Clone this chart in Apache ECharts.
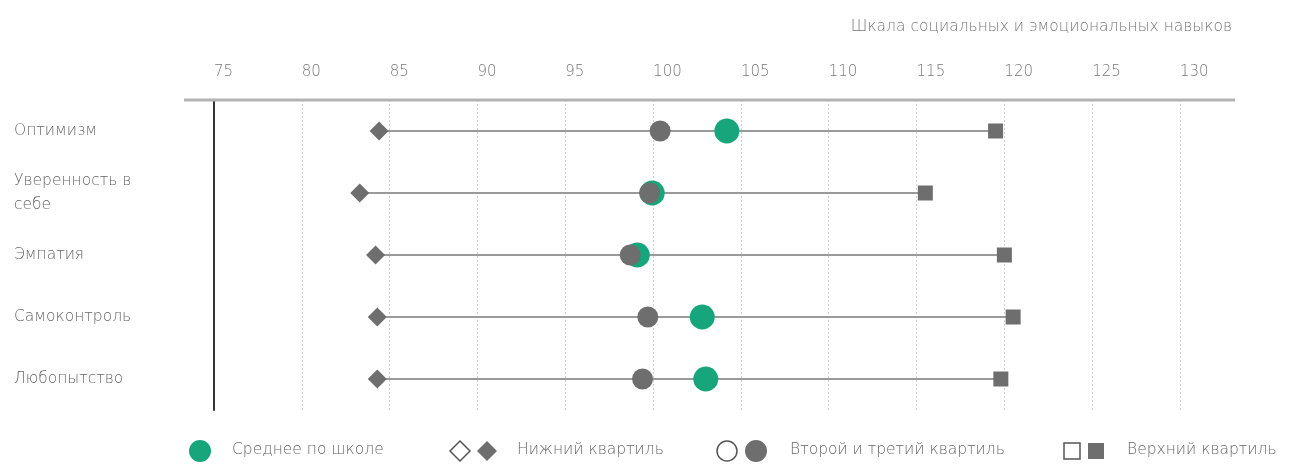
<!DOCTYPE html>
<html><head><meta charset="utf-8">
<script src="https://cdn.jsdelivr.net/npm/echarts@6/dist/echarts.min.js"></script>
<style>html,body{margin:0;padding:0;background:#fff}#c{width:1290px;height:464px}</style>
</head><body><div id="c"></div>
<script>
const categories = ['Оптимизм', 'Уверенность в\nсебе', 'Эмпатия', 'Самоконтроль', 'Любопытство'];
const lowerQuartile = [84.4, 83.3, 84.2, 84.3, 84.3];
const middleQuartiles = [100.4, 99.8, 98.7, 99.7, 99.4];
const schoolMean = [104.2, 99.95, 99.1, 102.8, 103.0];
const upperQuartile = [119.5, 115.5, 120.0, 120.5, 119.8];
const axisMin = 75, axisMax = 130, axisStep = 5;
const axisTitle = 'Шкала социальных и эмоциональных навыков';
const legendLabels = ['Среднее по школе', 'Нижний квартиль', 'Второй и третий квартиль', 'Верхний квартиль'];

const FONT = 'DejaVu Sans';
const GREEN = '#17a57b', GRAY = '#6e6e6e', TXT = '#666';
const LFONT = '200 15.5px "DejaVu Sans"';

const chart = echarts.init(document.getElementById('c'));
const pts = arr => arr.map((v, i) => [v, i]);
const lgY = 451;
chart.setOption({
  animation: false,
  grid: { left: 214, right: 110, top: 100, bottom: 54 },
  xAxis: {
    type: 'value', position: 'top', min: axisMin, max: axisMax, interval: axisStep,
    axisLine: { show: false }, axisTick: { show: false },
    axisLabel: { margin: 20, align: 'left', color: '#777', fontFamily: FONT, fontSize: 15, fontWeight: 200 },
    splitLine: { show: true, lineStyle: { color: '#cfcfcf', type: [2, 2], width: 1 } }
  },
  yAxis: {
    type: 'category', data: categories, inverse: true,
    axisLine: { show: true, lineStyle: { color: '#333', width: 2 } }, axisTick: { show: false },
    axisLabel: { align: 'left', margin: 200, color: TXT, fontFamily: FONT, fontSize: 15.5, fontWeight: 200, lineHeight: 24 },
    splitLine: { show: false }
  },
  graphic: [
    { type: 'line', shape: { x1: 184, y1: 100, x2: 1235, y2: 100 }, style: { stroke: '#b3b3b3', lineWidth: 3 }, z: 5 },
    { type: 'text', right: 58, top: 19, style: { text: axisTitle, fill: '#777', font: '200 15.5px "DejaVu Sans"' } },
    { type: 'circle', shape: { cx: 200, cy: lgY, r: 11 }, style: { fill: GREEN } },
    { type: 'text', left: 232, top: lgY - 9, style: { text: legendLabels[0], fill: TXT, font: LFONT } },
    { type: 'polygon', shape: { points: [[460, lgY - 10], [470, lgY], [460, lgY + 10], [450, lgY]] }, style: { fill: '#fff', stroke: '#555', lineWidth: 1.5 } },
    { type: 'polygon', shape: { points: [[487, lgY - 10], [497, lgY], [487, lgY + 10], [477, lgY]] }, style: { fill: GRAY } },
    { type: 'text', left: 517, top: lgY - 9, style: { text: legendLabels[1], fill: TXT, font: LFONT } },
    { type: 'circle', shape: { cx: 727, cy: lgY, r: 10 }, style: { fill: '#fff', stroke: '#555', lineWidth: 1.5 } },
    { type: 'circle', shape: { cx: 756, cy: lgY, r: 11 }, style: { fill: GRAY } },
    { type: 'text', left: 790, top: lgY - 9, style: { text: legendLabels[2], fill: TXT, font: LFONT } },
    { type: 'rect', shape: { x: 1064, y: lgY - 8, width: 16, height: 16 }, style: { fill: '#fff', stroke: '#555', lineWidth: 1.5 } },
    { type: 'rect', shape: { x: 1088, y: lgY - 8, width: 16, height: 16 }, style: { fill: GRAY } },
    { type: 'text', left: 1127, top: lgY - 9, style: { text: legendLabels[3], fill: TXT, font: LFONT } }
  ],
  series: [
    {
      type: 'custom', z: 1,
      data: categories.map((c, i) => [lowerQuartile[i], upperQuartile[i], i]),
      encode: { x: [0, 1], y: 2 },
      renderItem: (params, api) => {
        const a = api.coord([api.value(0), api.value(2)]);
        const b = api.coord([api.value(1), api.value(2)]);
        return { type: 'line', shape: { x1: a[0], y1: a[1], x2: b[0], y2: b[1] }, style: { stroke: '#9a9a9a', lineWidth: 2 } };
      }
    },
    { type: 'scatter', z: 2, symbol: 'diamond', symbolSize: 19, data: pts(lowerQuartile), itemStyle: { color: GRAY, opacity: 1 } },
    { type: 'scatter', z: 2, symbol: 'rect', symbolSize: 15, data: pts(upperQuartile), itemStyle: { color: GRAY, opacity: 1 } },
    { type: 'scatter', z: 3, symbol: 'circle', symbolSize: 25, data: pts(schoolMean), itemStyle: { color: GREEN, opacity: 1 } },
    { type: 'scatter', z: 4, symbol: 'circle', symbolSize: 21, data: pts(middleQuartiles), itemStyle: { color: GRAY, opacity: 1 } }
  ]
});
</script></body></html>
